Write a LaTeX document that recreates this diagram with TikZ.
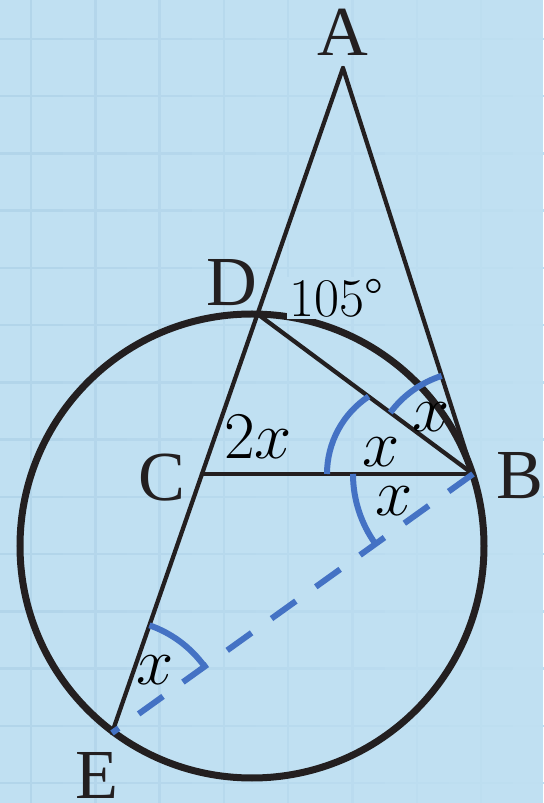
\documentclass[tikz,border=0pt]{standalone}
\usepackage{fix-cm}
\usepackage{fontspec}
\newfontfamily\ptfont{Liberation Serif}
\usepackage{xcolor}
\usepackage{tikz}
\usetikzlibrary{calc,angles}
\definecolor{paper}{RGB}{192,224,242}
\definecolor{gridline}{RGB}{172,208,231}
\definecolor{ink}{RGB}{35,31,32}
\definecolor{markblue}{RGB}{68,114,196}

\begin{document}
\begin{tikzpicture}[x=0.2mm,y=0.2mm,
  ptlabel/.style={font=\ptfont\fontsize{40}{40}\selectfont,text=ink},
  varlabel/.style={font=\fontsize{38}{38}\selectfont,text=black},
  seg/.style={draw=ink,line width=0.85mm,line cap=round},
  angmark/.style={draw=markblue,line width=1.2mm}]
\useasboundingbox (0,0) rectangle (543,803);
\fill[paper] (0,0) rectangle (543,803);
% faint grid, fading to the right
\foreach \i in {0,...,8}{
  \pgfmathsetmacro\gx{31+64.3*\i}
  \pgfmathtruncatemacro\gs{70-8*\i}
  \draw[gridline!\gs!paper,line width=0.5mm] (\gx,0) -- (\gx,803);
  \foreach \j in {0,...,13}
    \draw[gridline!\gs!paper,line width=0.5mm] (\gx-32.15,764-57.25*\j) -- ++(64.3,0);
}
\coordinate (O) at (252,257);
\coordinate (A) at (343,735);
\coordinate (D) at (257.5,489);
\coordinate (C) at (202,329);
\coordinate (B) at (473,329);
\coordinate (E) at (112,70);
\draw[ink,line width=1.4mm] (O) circle (232);
\draw[seg] (A) -- (E);
\draw[seg] (A) -- (B) -- (D);
\draw[seg] (C) -- (B);
\draw[markblue,line width=1.2mm,dash pattern=on 6mm off 4.9mm] (B) -- (E);
% angle marks
\pic[angmark,angle radius=22.8mm] {angle=B--E--A};
\pic[angmark,angle radius=24mm] {angle=C--B--E};
\pic[angmark,angle radius=20.6mm] {angle=A--B--D};
\draw[angmark] ($(B)+(-146,0)$) arc[start angle=180,end angle=123.5,radius=93];
\node[ptlabel] (lblA) at (343,771) {A};
\node[ptlabel] (lblB) at (520,327) {B};
\node[ptlabel] (lblC) at (162,325) {C};
\node[ptlabel] (lblD) at (232,520) {D};
\node[ptlabel] (lblE) at (97,28) {E};
\node[font=\fontsize{31}{31}\selectfont,fill=paper,inner sep=0.4mm] (lbl105) at (336,505) {105°};
\node[varlabel] (lbl2x) at (258,366) {$2x$};
\node[varlabel] (lblxE) at (155,133) {$x$};
\node[varlabel] (lblxDB) at (381,351) {$x$};
\node[varlabel] (lblxAB) at (431,386) {$x$};
\node[varlabel] (lblxEB) at (394,302) {$x$};
\end{tikzpicture}
\end{document}
